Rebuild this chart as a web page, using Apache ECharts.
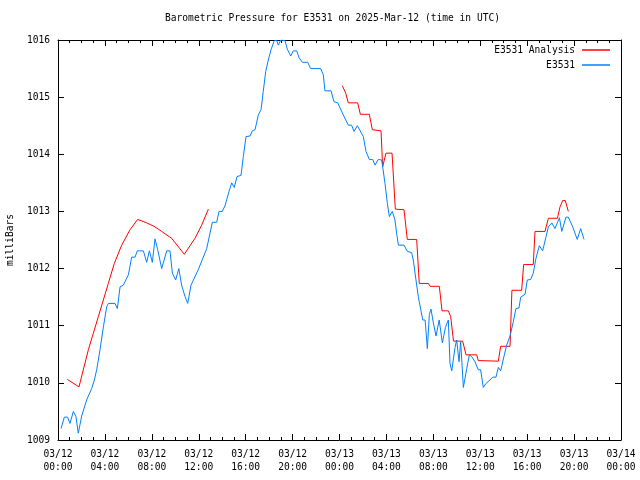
<!DOCTYPE html>
<html><head><meta charset="utf-8">
<script src="https://cdn.jsdelivr.net/npm/echarts@6/dist/echarts.min.js"></script>
<style>html,body{margin:0;padding:0;background:#fff}#c{width:640px;height:480px}</style>
</head><body><div id="c"></div>
<script>
// hours since 03/12 00:00 UTC
var blueTimes = [0.26,0.54,0.82,1.02,1.31,1.53,1.73,2.02,2.44,2.87,3.10,3.30,3.58,3.87,4.15,4.29,4.86,5.06,5.29,5.57,6.00,6.28,6.57,6.76,7.28,7.56,7.79,8.04,8.27,8.50,8.84,9.27,9.55,9.75,10.03,10.30,10.54,10.83,11.06,11.34,11.96,12.68,12.96,13.16,13.53,13.73,14.00,14.24,14.58,14.81,15.03,15.26,15.60,15.80,16.03,16.37,16.57,16.80,17.08,17.31,17.50,17.71,17.93,18.16,18.44,18.65,18.78,18.99,19.35,19.55,19.84,20.06,20.35,20.55,20.83,21.29,21.54,22.40,22.62,22.76,23.28,23.53,23.85,24.32,24.75,25.03,25.24,25.52,26.03,26.26,26.54,26.83,27.03,27.31,27.60,27.68,27.88,28.08,28.25,28.50,28.73,28.87,29.02,29.50,29.78,30.15,30.29,30.52,30.72,30.80,31.10,31.30,31.49,31.66,31.80,32.00,32.23,32.50,32.77,33.03,33.28,33.42,33.57,33.85,33.99,34.19,34.33,34.56,34.85,35.07,35.27,35.55,35.83,36.03,36.26,36.49,36.83,37.06,37.34,37.54,37.74,38.03,38.25,38.54,38.82,39.04,39.30,39.45,39.82,40.01,40.30,40.52,40.75,41.04,41.32,41.61,41.81,42.10,42.37,42.75,42.95,43.10,43.31,43.51,43.88,44.27,44.56,44.85];
var blueValues = [1009.20,1009.40,1009.40,1009.29,1009.50,1009.41,1009.12,1009.42,1009.70,1009.90,1010.05,1010.23,1010.58,1010.98,1011.33,1011.39,1011.39,1011.30,1011.68,1011.71,1011.89,1012.20,1012.20,1012.31,1012.31,1012.11,1012.31,1012.11,1012.52,1012.33,1012.00,1012.31,1012.31,1011.92,1011.80,1012.00,1011.71,1011.51,1011.39,1011.71,1011.98,1012.35,1012.62,1012.81,1012.81,1013.00,1013.00,1013.10,1013.35,1013.50,1013.42,1013.61,1013.63,1013.96,1014.31,1014.32,1014.41,1014.43,1014.69,1014.78,1015.10,1015.45,1015.65,1015.83,1015.99,1015.99,1015.91,1016.00,1015.99,1015.84,1015.72,1015.81,1015.81,1015.69,1015.61,1015.61,1015.50,1015.50,1015.39,1015.11,1015.11,1014.92,1014.90,1014.69,1014.51,1014.51,1014.40,1014.50,1014.31,1014.05,1013.91,1013.91,1013.81,1013.91,1013.90,1013.78,1013.49,1013.14,1012.91,1013.00,1012.85,1012.62,1012.41,1012.41,1012.30,1012.28,1012.15,1011.80,1011.51,1011.42,1011.10,1011.10,1010.60,1011.20,1011.29,1011.05,1010.82,1011.10,1010.70,1010.97,1011.10,1010.34,1010.21,1010.62,1010.75,1010.37,1010.72,1009.92,1010.25,1010.49,1010.46,1010.37,1010.23,1010.23,1009.92,1009.99,1010.05,1010.10,1010.10,1010.27,1010.21,1010.47,1010.66,1010.82,1011.07,1011.30,1011.31,1011.50,1011.55,1011.80,1011.81,1011.92,1012.18,1012.40,1012.31,1012.56,1012.73,1012.80,1012.70,1012.89,1012.65,1012.65,1012.90,1012.90,1012.73,1012.51,1012.70,1012.51];
var redTimes = [0.80,1.79,2.59,3.44,4.29,4.80,5.43,6.14,6.79,7.56,8.27,8.84,9.69,10.77,11.68,12.25,12.82,18.00,24.24,24.53,24.75,25.55,25.78,26.54,26.80,27.54,27.68,27.96,28.48,28.76,29.50,29.78,30.58,30.80,31.57,31.72,32.51,32.74,33.28,33.48,33.72,34.50,34.79,35.70,35.83,37.54,37.74,38.54,38.70,39.53,39.70,40.52,40.67,41.52,41.81,42.58,42.80,43.03,43.25,43.51];
var redValues = [1010.06,1009.93,1010.58,1011.16,1011.74,1012.09,1012.41,1012.68,1012.86,1012.80,1012.73,1012.65,1012.53,1012.25,1012.53,1012.76,1013.04,null,1015.20,1015.07,1014.90,1014.90,1014.70,1014.70,1014.43,1014.41,1013.78,1014.02,1014.02,1013.04,1013.03,1012.51,1012.51,1011.74,1011.74,1011.69,1011.69,1011.26,1011.26,1011.16,1010.73,1010.73,1010.49,1010.49,1010.39,1010.38,1010.64,1010.64,1011.62,1011.62,1012.07,1012.07,1012.65,1012.65,1012.88,1012.88,1013.08,1013.19,1013.19,1013.00];
var seriesNames = ['E3531 Analysis', 'E3531'];
var seriesColors = ['#ff0000', '#0080ff'];
var titleText = 'Barometric Pressure for E3531 on 2025-Mar-12 (time in UTC)';
var yName = 'milliBars';

function pairs(t, v) { return t.map(function (x, i) { return [x, v[i] === null ? '-' : v[i]]; }); }
function fmtX(v) {
  var d = 12 + Math.floor(v / 24), h = v % 24;
  return '03/' + d + '\n' + (h < 10 ? '0' : '') + h + ':00';
}
var FONT = 'DejaVu Sans Mono';
var FS = 9.6;
function xAx(pos, showLabel) {
  return {type: 'value', min: 0, max: 48, interval: 4, position: pos,
    axisLine: {show: true, onZero: false, lineStyle: {color: '#000', width: 1}},
    axisTick: {show: true, inside: true, length: 6, lineStyle: {color: '#000'}},
    minorTick: {show: true, splitNumber: 4, length: 3, lineStyle: {color: '#000'}},
    splitLine: {show: false},
    axisLabel: {show: showLabel, formatter: fmtX, fontFamily: FONT, fontSize: FS, color: '#000', lineHeight: 13, margin: 8}};
}
function yAx(pos, showLabel) {
  return {type: 'value', min: 1009, max: 1016, interval: 1, position: pos,
    name: showLabel ? yName : '', nameLocation: 'middle', nameGap: 43, nameRotate: 90,
    nameTextStyle: {fontFamily: FONT, fontSize: FS, color: '#000'},
    axisLine: {show: true, onZero: false, lineStyle: {color: '#000', width: 1}},
    axisTick: {show: true, inside: true, length: 6, lineStyle: {color: '#000'}},
    splitLine: {show: false},
    axisLabel: {show: showLabel, formatter: function (v) { return String(v); }, fontFamily: FONT, fontSize: FS, color: '#000', margin: 8}};
}
function leg(i, top) {
  return {data: [{name: seriesNames[i], itemStyle: {color: seriesColors[i]}}], right: 30, top: top, orient: 'vertical', align: 'right',
    icon: 'rect', itemWidth: 28, itemHeight: 1.5, itemGap: 4, padding: 0,
    textStyle: {fontFamily: FONT, fontSize: FS, color: '#000', padding: [0, 2, 0, 0]}, selectedMode: false};
}
var chart = echarts.init(document.getElementById('c'), null, {renderer: 'canvas'});
chart.setOption({
  animation: false,
  backgroundColor: '#fff',
  title: {text: titleText, left: 165, top: 13, padding: 0,
    textStyle: {fontFamily: FONT, fontSize: FS, fontWeight: 'normal', color: '#000'}},
  grid: {left: 58, right: 19, top: 40, bottom: 40, containLabel: false, outerBoundsMode: 'none'},
  legend: [leg(0, 45), leg(1, 60)],
  xAxis: [xAx('bottom', true), xAx('top', false)],
  yAxis: [yAx('left', true), yAx('right', false)],
  series: [
    {name: seriesNames[0], type: 'line', data: pairs(redTimes, redValues), showSymbol: false, connectNulls: false,
     color: seriesColors[0], lineStyle: {width: 1, color: seriesColors[0]}},
    {name: seriesNames[1], type: 'line', data: pairs(blueTimes, blueValues), showSymbol: false,
     color: seriesColors[1], lineStyle: {width: 1, color: seriesColors[1]}}
  ]
});
</script></body></html>
